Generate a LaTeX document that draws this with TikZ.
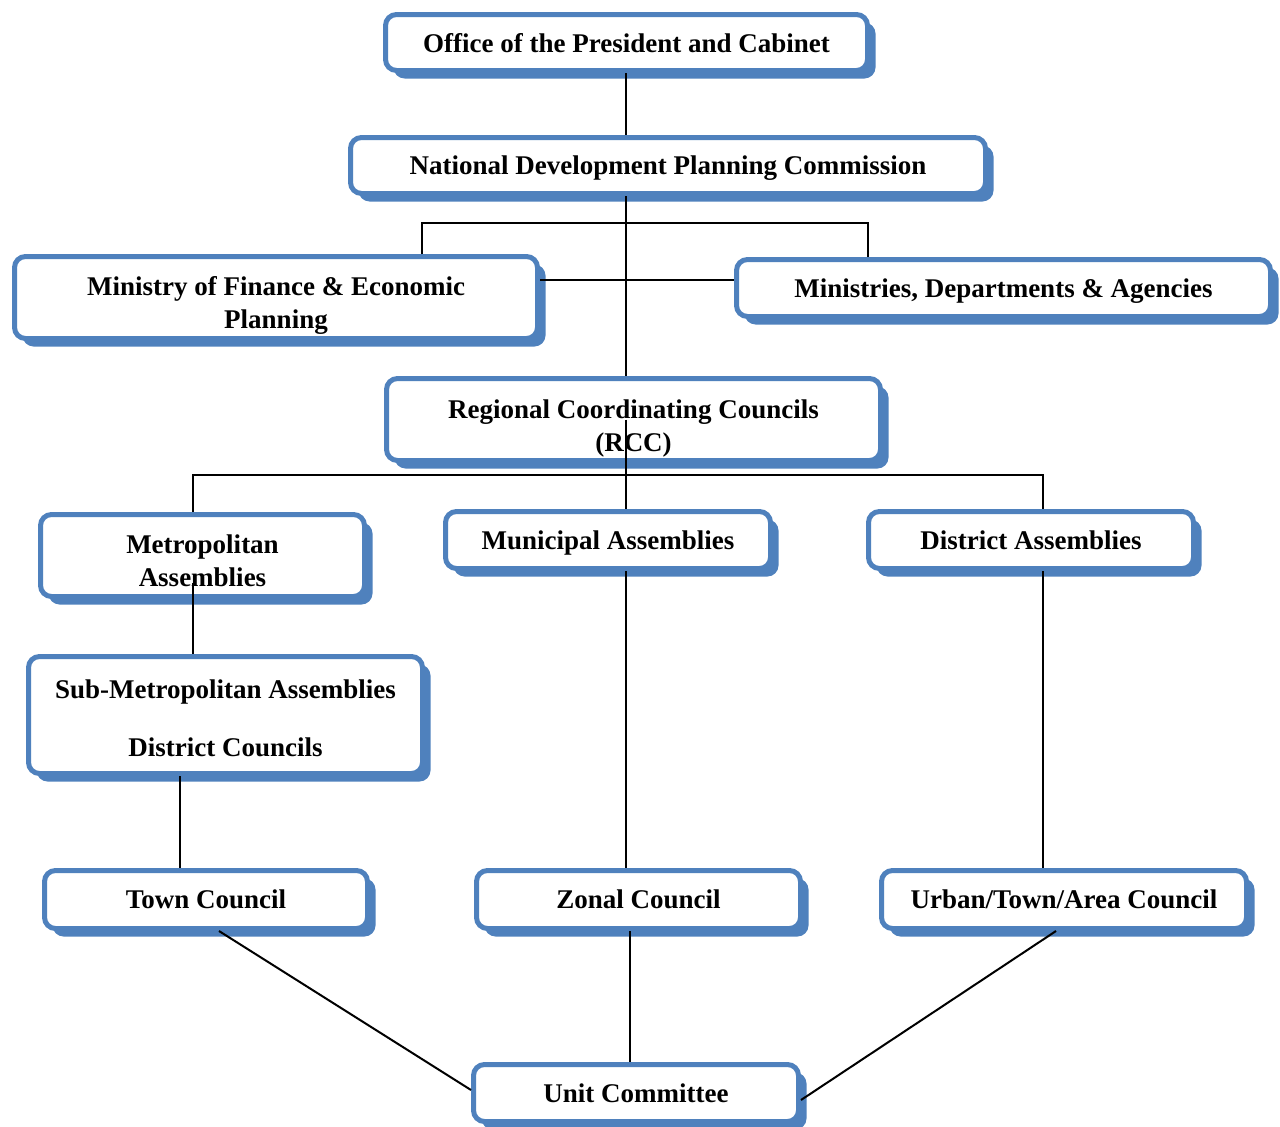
\documentclass[tikz,border=0pt]{standalone}
\usepackage{fontspec}
\setmainfont{Liberation Serif}
\usetikzlibrary{shadows,calc}
\definecolor{boxblue}{HTML}{4F81BD}
\begin{document}
\begin{tikzpicture}[x=1pt,y=-1pt,
  orgbox/.style={draw=boxblue, line width=5pt, rounded corners=11pt, fill=white,
    align=center, inner sep=0pt, text depth=0pt,
    font=\fontsize{27}{33}\selectfont\bfseries,
    drop shadow={shadow xshift=8pt, shadow yshift=-8pt, fill=boxblue, opacity=1}},
  link/.style={draw=black, line width=2pt}]
\useasboundingbox (0,0) rectangle (1280,1127);
\node[orgbox, minimum width=482pt, minimum height=56pt] (office) at (626.5,42.5) {Office of the President and Cabinet};
\node[orgbox, minimum width=635pt, minimum height=56pt] (ndpc) at (668,165.5) {National Development Planning Commission};
\node[orgbox, minimum width=523pt, minimum height=82pt] (mof) at (276,297.5) {\rule{0pt}{29pt}Ministry of Finance \& Economic\\ Planning};
\node[orgbox, minimum width=534pt, minimum height=57pt] (mda) at (1003.5,288) {Ministries, Departments \& Agencies};
\node[orgbox, minimum width=494pt, minimum height=82pt] (rcc) at (633.5,419.5) {\rule{0pt}{31pt}Regional Coordinating Councils\\ (RCC)};
\node[orgbox, minimum width=324pt, minimum height=82pt] (metro) at (202.5,555.5) {\rule{0pt}{29pt}Metropolitan\\ Assemblies};
\node[orgbox, minimum width=325pt, minimum height=57pt] (muni) at (608,540) {Municipal Assemblies};
\node[orgbox, minimum width=325pt, minimum height=57pt] (dist) at (1031,540) {District Assemblies};
\node[orgbox, minimum width=394pt, minimum height=117pt] (sub) at (225.5,715) {\rule{0pt}{25pt}Sub-Metropolitan Assemblies\\[25pt] District Councils};
\node[orgbox, minimum width=323pt, minimum height=58pt] (town) at (206,899.5) {Town Council};
\node[orgbox, minimum width=324pt, minimum height=58pt] (zonal) at (638.5,899.5) {Zonal Council};
\node[orgbox, minimum width=365pt, minimum height=58pt] (urban) at (1064,899.5) {Urban/Town/Area Council};
\node[orgbox, minimum width=325pt, minimum height=57pt] (unit) at (636,1093) {Unit Committee};

% connectors
\draw[link] (626,0 |- office.south) -- (626,0 |- ndpc.north);
\draw[link] (626,0 |- ndpc.south) -- (626,0 |- rcc.north);
\draw[link] (422,0 |- mof.north) |- (868,223) -- (868,0 |- mda.north);
\draw[link] (mof.east |- 0,280) -- (mda.west |- 0,280);
\draw[link] (626,0 |- rcc.center) -- (626,0 |- muni.north);
\draw[link] (193,0 |- metro.north) |- (1043,475) -- (1043,0 |- dist.north);
\draw[link] (193,583) -- (193,0 |- sub.north);
\draw[link] (180,0 |- sub.south) -- ++(0,8) -- (180,0 |- town.north);
\draw[link] (626,0 |- muni.south) -- (626,0 |- zonal.north);
\draw[link] (1043,0 |- dist.south) -- (1043,0 |- urban.north);
\draw[link] (219,0 |- town.south) -- (unit.west |- 0,1090);
\draw[link] (630,0 |- zonal.south) -- (630,0 |- unit.north);
\draw[link] (1056,0 |- urban.south) -- (unit.east |- 0,1100);
\end{tikzpicture}
\end{document}
